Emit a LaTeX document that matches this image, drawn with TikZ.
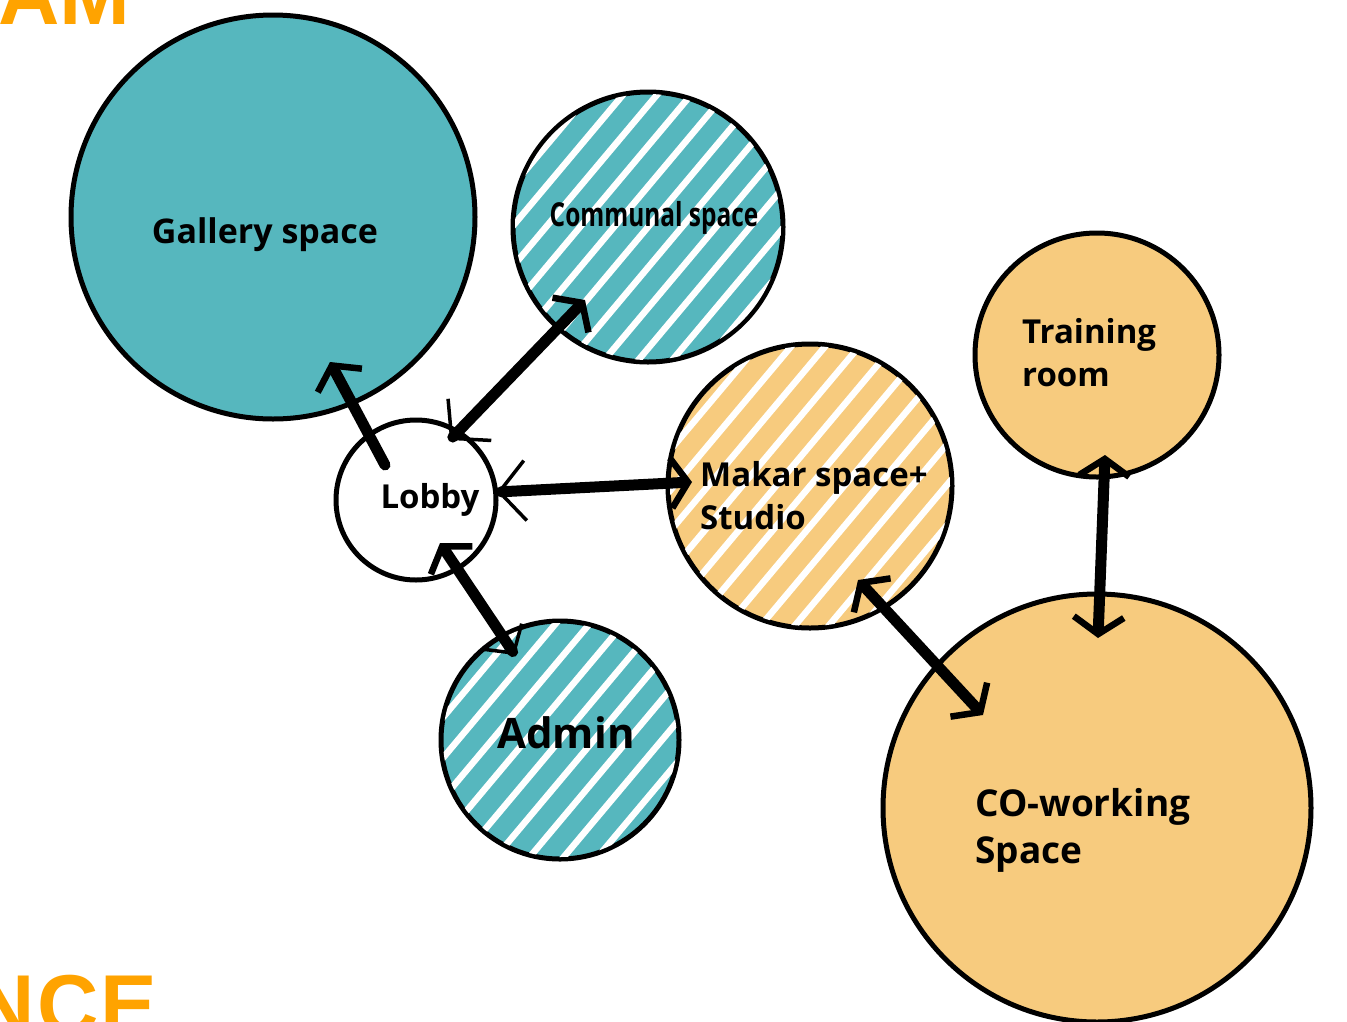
\documentclass[tikz,border=0pt]{standalone}
\usepackage{fontspec}
\setmainfont{Open Sans}
\newfontfamily\headfont{Liberation Sans}
\usetikzlibrary{arrows.meta,calc}
\definecolor{tealc}{RGB}{86,183,190}
\definecolor{sand}{RGB}{247,203,126}
\definecolor{headorange}{RGB}{255,163,0}
\newcommand\hatchin[2]{%
\begin{scope}
\clip (#1.center) circle[radius=#2];
\foreach \k in {-14,...,14}{
 \draw[hatchline] ($(#1.center)+(\k*34-260*0.643, 260*0.766)$) -- ($(#1.center)+(\k*34+260*0.643,-260*0.766)$);
}
\end{scope}}
\begin{document}
\begin{tikzpicture}[x=1pt,y=-1pt,
  room/.style={circle, draw=black, line width=5pt, inner sep=0pt},
  hatchline/.style={white, line width=6.5pt},
  lbl/.style={inner sep=0pt, font=\bfseries\fontsize{33}{43}\selectfont, text=black},
  conn/.style={line width=11pt, line cap=round},
  tB/.tip={Straight Barb[length=17pt,width=50pt,line width=6.5pt]},
  tS/.tip={Straight Barb[length=26pt,width=60pt,line width=3.5pt]},
  head/.style={inner sep=0pt, text=headorange, font=\headfont\bfseries\fontsize{85}{85}\selectfont}
]
\useasboundingbox (0,0) rectangle (1347,1021);
\clip (0,0) rectangle (1347,1021);
\fill[white] (0,0) rectangle (1347,1021);

\node[head, anchor=base east] (amtxt) at (131,24) {AM};
\node[head, anchor=base west] (ncetxt) at (-27,1034) {\addfontfeature{LetterSpace=3}NCE};

% rooms
\node[room, fill=tealc, minimum size=404pt] (gallery) at (273,217) {};
\node[room, fill=tealc, minimum size=270pt] (communal) at (648,227) {};
\node[room, fill=white, minimum size=160pt] (lobby) at (416,500) {};
\node[room, fill=sand, minimum size=284pt] (makar) at (810,486) {};
\node[room, fill=sand, minimum size=244pt] (training) at (1097,355) {};
\node[room, fill=tealc, minimum size=238pt] (admin) at (560,740) {};
\node[room, fill=sand, minimum size=428pt] (cowork) at (1097,808) {};

\hatchin{communal}{133}
\hatchin{makar}{140}
\hatchin{admin}{117}

% labels
\node[lbl, font=\bfseries\fontsize{34}{43}\selectfont] (gallerylbl) at (265,235) {Gallery space};
\node[lbl] (communallbl) at (654,218) {\scalebox{0.74}[1]{Communal space}};
\node[lbl] (lobbylbl) at (430,500) {Lobby};
\node[lbl, anchor=west, align=left] (makarlbl) at (700,496) {Makar space+\\Studio};
\node[lbl, anchor=west, align=left] (traininglbl) at (1022,353) {Training\\room};
\node[lbl, font=\bfseries\fontsize{42}{50}\selectfont] (adminlbl) at (566,733) {Admin};
\node[lbl, anchor=west, align=left, font=\bfseries\fontsize{37}{47}\selectfont] (coworklbl) at (975,830) {CO-working\\Space};

% connector end points
\coordinate (g1) at ($(lobby.center)+(-31,-35)$);
\coordinate (g2) at ($(gallery.center)+(57,145)$);
\coordinate (c1) at ($(lobby.center)+(34,-60)$);
\coordinate (c2) at ($(communal.center)+(-63,73)$);
\coordinate (m1) at ($(lobby.center)+(81,-8)$);
\coordinate (m2) at ($(makar.center)+(-118,-4)$);
\coordinate (a1) at ($(lobby.center)+(24,43)$);
\coordinate (a2) at ($(admin.center)+(-45,-85)$);
\coordinate (k1) at ($(makar.center)+(48,94)$);
\coordinate (k2) at ($(cowork.center)+(-114,-93)$);
\coordinate (t1) at ($(training.center)+(8,100)$);
\coordinate (t2) at ($(cowork.center)+(1,-170)$);

\draw[conn, -{tB}] (g1) -- (g2);
\draw[conn, {tS}-{tB}] (c1) -- (c2);
\draw[conn, {tS}-{tB}] (m1) -- (m2);
\draw[conn, {tB}-{tS[length=20pt,width=46pt]}] (a1) -- (a2);
\draw[conn, {tB}-{tB}] (k1) -- (k2);
\draw[conn, {tB}-{tB}] (t1) -- (t2);
\end{tikzpicture}
\end{document}
